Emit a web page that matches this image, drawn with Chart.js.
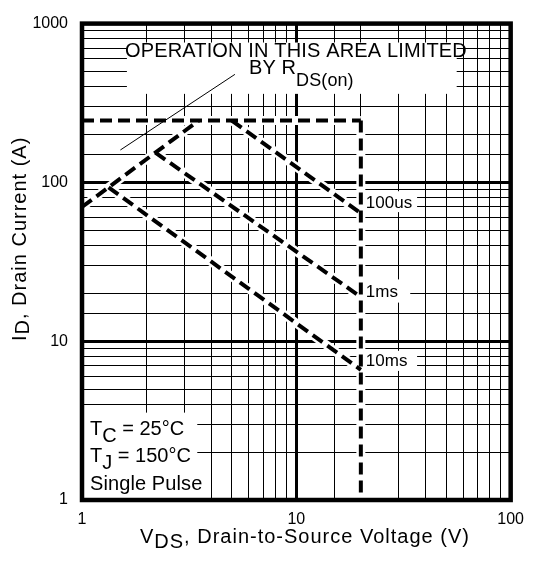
<!DOCTYPE html>
<html><head><meta charset="utf-8">
<script src="https://cdn.jsdelivr.net/npm/chart.js@4.4.1/dist/chart.umd.min.js"></script>
<style>html,body{margin:0;padding:0;background:#fff}#wrap{width:534px;height:566px;position:relative}</style>
</head><body><div id="wrap"><canvas id="c"></canvas></div>
<script>
// ---- data ----
const xTickValues = [1, 10, 100];
const yTickValues = [1, 10, 100, 1000];
const rdsLimitV = [1, 3.5];      const rdsLimitI = [70, 245];
const currentLimitV = [1, 20];   const currentLimitI = [245, 245];
const voltageLimitV = [20, 20];  const voltageLimitI = [245, 1];
const pulse100usV = [5, 20];     const pulse100usI = [245, 64];
const pulse1msV = [2.2, 20];     const pulse1msI = [154, 19];
const pulse10msV = [1.33, 20];   const pulse10msI = [93, 6.6];
const leaderV = [1.51, 5.17];    const leaderI = [160, 479];
const pulseLabels = ['100us', '1ms', '10ms'];
const pulseLabelI = [74.7, 20.6, 7.6];

const FONT = '"Liberation Sans", Arial, sans-serif';
Chart.defaults.font.family = FONT;
Chart.defaults.color = '#000';

const pts = (xs, ys) => xs.map((v, i) => ({x: v, y: ys[i]}));
const series = [
  [currentLimitV, currentLimitI],
  [voltageLimitV, voltageLimitI],
  [rdsLimitV, rdsLimitI],
  [pulse100usV, pulse100usI],
  [pulse1msV, pulse1msI],
  [pulse10msV, pulse10msI]
];
// note: Chart.js paints the first dataset on top
const dashed = (s) => ({data: pts(s[0], s[1]), borderColor: '#000', borderWidth: 4, borderDash: [12, 6],
  pointRadius: 0, showLine: true, fill: false, tension: 0, borderCapStyle: 'butt', order: 1});
const halo = (s) => ({data: pts(s[0], s[1]), borderColor: '#fff', borderWidth: 9, pointRadius: 0,
  showLine: true, fill: false, tension: 0, borderCapStyle: 'butt', order: 3});
const isDecade = (v) => Math.abs(Math.log10(v) - Math.round(Math.log10(v))) < 1e-6;

function drawRich(ctx, segs, x, y, font, spacing) {
  ctx.letterSpacing = spacing + 'px';
  let cx = x;
  segs.forEach(s => {
    ctx.font = (s.size || font) + 'px ' + FONT;
    ctx.fillText(s.t, cx, y + (s.dy || 0));
    cx += ctx.measureText(s.t).width;
  });
  ctx.letterSpacing = '0px';
  return cx;
}

const annot = {
  id: 'annot',
  beforeDraw(chart) {
    const ctx = chart.ctx;
    ctx.save(); ctx.fillStyle = '#fff'; ctx.fillRect(0, 0, chart.width, chart.height); ctx.restore();
  },
  beforeDatasetsDraw(chart) {
    const {ctx, scales: {x, y}, chartArea: a} = chart;
    ctx.save();
    ctx.fillStyle = '#fff';
    const boxes = [
      [1.62, 56, 361, 760],
      [20.4, 36.6, 65, 88],
      [20.4, 34, 17.5, 24.5],
      [20.4, 36.6, 6.5, 8.7],
      [1, 3.45, 1, 3.55]
    ];
    boxes.forEach(b => {
      const x0 = Math.max(x.getPixelForValue(b[0]), a.left + 2);
      const x1 = x.getPixelForValue(b[1]);
      const y0 = y.getPixelForValue(b[3]);
      const y1 = Math.min(y.getPixelForValue(b[2]), a.bottom - 2);
      ctx.fillRect(x0, y0, x1 - x0, y1 - y0);
    });
    ctx.fillStyle = '#000';
    ctx.textBaseline = 'alphabetic';
    ctx.textAlign = 'left';
    drawRich(ctx, [{t: 'OPERATION IN THIS AREA LIMITED'}], 125, 57, 20, 0.15);
    drawRich(ctx, [{t: 'BY R'}, {t: 'DS(on)', dy: 12, size: 18}], 249, 74, 20, 0.1);
    drawRich(ctx, [{t: 'T'}, {t: 'C', dy: 7}, {t: ' = 25°C'}], 90, 435, 20, 0);
    drawRich(ctx, [{t: 'T'}, {t: 'J', dy: 7}, {t: ' = 150°C'}], 90, 462, 20, 0);
    drawRich(ctx, [{t: 'Single Pulse'}], 90, 490, 20, 0.1);
    ctx.textBaseline = 'middle';
    ctx.font = '17px ' + FONT;
    pulseLabels.forEach((t, i) => {
      ctx.fillText(t, x.getPixelForValue(20) + 5, y.getPixelForValue(pulseLabelI[i]) + 1);
    });
    ctx.restore();
  },
  afterDraw(chart) {
    const {ctx, chartArea: a} = chart;
    ctx.save();
    ctx.strokeStyle = '#000';
    ctx.lineWidth = 4.5;
    ctx.strokeRect(a.left, a.top, a.right - a.left, a.bottom - a.top);
    ctx.fillStyle = '#000';
    ctx.textBaseline = 'alphabetic';
    drawRich(ctx, [{t: 'V'}, {t: 'DS', dy: 5}, {t: ', Drain-to-Source Voltage (V)'}], 140, 543, 20, 1);
    ctx.translate(25.5, 341);
    ctx.rotate(-Math.PI / 2);
    drawRich(ctx, [{t: 'I'}, {t: 'D', dy: 3}, {t: ', Drain Current (A)'}], 0, 0, 20, 1);
    ctx.restore();
  }
};

new Chart(document.getElementById('c'), {
  type: 'scatter',
  data: {
    datasets: [
      ...series.map(dashed),
      {data: pts(leaderV, leaderI), borderColor: '#000', borderWidth: 1, pointRadius: 0, showLine: true, order: 2},
      ...series.map(halo)
    ]
  },
  options: {
    responsive: true, maintainAspectRatio: false, animation: false,
    layout: {padding: {top: 17, right: 20, left: 0, bottom: 0}},
    plugins: {legend: {display: false}, tooltip: {enabled: false}},
    scales: {
      x: {
        type: 'logarithmic', min: 1, max: 100, position: 'bottom',
        afterFit: (s) => { s.height = 66; },
        border: {display: false},
        grid: {color: '#000', lineWidth: (c) => isDecade(c.tick.value) ? 3 : 1, drawTicks: false},
        ticks: {autoSkip: false, maxRotation: 0, padding: 10, font: {size: 16},
          callback: (v) => xTickValues.some(t => Math.abs(t - v) < 1e-9) ? String(v) : ''}
      },
      y: {
        type: 'logarithmic', min: 1, max: 1000,
        afterFit: (s) => { s.width = 82; },
        border: {display: false},
        grid: {color: '#000', lineWidth: (c) => isDecade(c.tick.value) ? 3 : 1, drawTicks: false},
        ticks: {autoSkip: false, padding: 14, font: {size: 16},
          callback: (v) => yTickValues.some(t => Math.abs(t - v) < 1e-9) ? String(v) : ''}
      }
    }
  },
  plugins: [annot]
});
</script></body></html>
